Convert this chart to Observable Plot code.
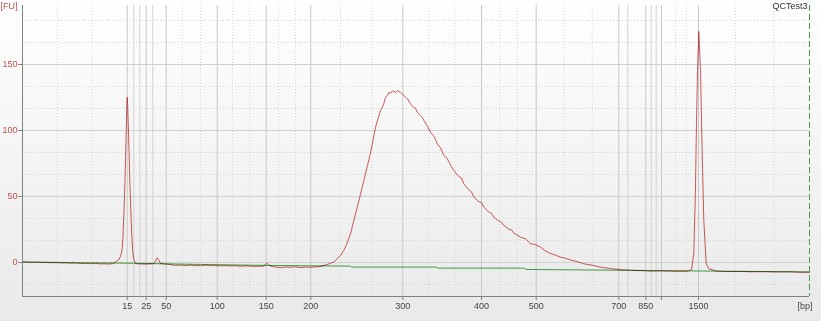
<!DOCTYPE html>
<html><head><meta charset="utf-8">
<script src="https://cdn.jsdelivr.net/npm/d3@7"></script>
<script src="https://cdn.jsdelivr.net/npm/@observablehq/plot@0.6"></script>
<style>
html,body{margin:0;padding:0;}
body{width:821px;height:321px;background:linear-gradient(#ffffff,#e9e9e9);overflow:hidden;}
</style></head><body><div id="chart"></div>
<script>
// Migration time (s) of the ladder peaks and their sizes (bp)
const ladderTime  = [40.47, 42.37, 44.37, 49.47, 54.37, 58.83, 68.03, 75.9, 81.37, 89.63, 92.33, 93.9, 97.6];
const ladderLabel = ["15", "25", "50", "100", "150", "200", "300", "400", "500", "700", "850", "", "1500"];
const extraLines  = [41.13, 41.73, 43.03, 90.53, 92.87, 93.37];
const minorXGrid  = [33.47, 36.97, 45.97, 47.8, 51.0, 52.73, 55.63, 57.3, 61.8, 64.97, 70.63, 73.23, 77.73, 79.47, 84.13, 86.97, 95.3, 96.37, 101.3, 105.13];
const yMajor = [0, 50, 100, 150];
const yMinor = [-16.67, 16.67, 33.33, 66.67, 83.33, 116.67, 133.33, 166.67, 183.33];

// Sample trace (QCTest3): time (s) and fluorescence (FU)
const sampleTime = [30.0,30.8,31.5,31.8,32.4,32.8,33.5,33.8,34.4,34.8,35.4,35.8,36.3,36.8,37.3,37.8,38.3,38.6,39.0,
 39.3,39.6,39.8,39.95,40.05,40.15,40.25,40.35,40.42,40.47,40.52,40.58,40.65,40.73,40.83,40.93,41.03,41.13,41.25,41.4,
 41.8,42.3,42.8,43.1,43.3,43.47,43.65,43.8,44.1,44.6,45.0,45.3,45.8,46.3,46.8,47.3,47.8,48.3,48.8,49.3,49.8,50.3,50.8,51.3,51.8,52.3,52.8,53.2,53.6,54.1,54.3,54.47,54.6,54.8,55.3,55.8,56.3,56.8,57.3,57.8,58.3,58.8,59.2,59.6,60.0,60.47,60.8,61.13,61.47,61.8,62.13,62.4,62.8,63.1,63.47,63.8,64.13,64.5,64.8,65.3,65.8,66.1,66.3,66.5,66.63,66.8,67.0,67.13,67.3,67.5,67.65,67.8,68.0,68.3,68.5,68.8,69.1,69.3,69.47,69.8,70.0,70.13,70.5,70.8,71.1,71.3,71.47,71.8,72.13,72.4,72.6,72.9,73.13,73.6,73.9,74.13,74.6,74.9,75.13,75.6,75.9,76.13,76.6,76.9,77.13,77.6,77.9,78.13,78.6,78.9,79.13,79.8,80.3,80.8,81.3,81.8,82.2,82.63,83.2,83.8,84.3,84.8,85.5,86.13,87.0,87.8,88.8,89.8,90.7,91.47,92.3,92.8,93.8,94.8,95.5,96.47,96.9,97.13,97.3,97.4,97.5,97.63,97.8,97.97,98.13,98.37,98.63,99.47,100.5,101.8,103.0,104.3,105.5,106.8,107.8,108.7];
const sampleFU = [0.4,0.2,0.3,0.0,0.1,-0.2,-0.1,-0.4,-0.3,-0.6,-0.5,-0.8,-0.7,-0.9,-0.8,-1.1,-1.0,-1.2,-1.0,
 0.4,1.9,4.5,9.1,19.7,39.4,62.1,92.4,115.2,125.2,118.9,103.8,84.8,62.1,39.4,20.5,7.6,2.3,-0.4,-1.0,
 -1.1,-1.3,-1.1,-1.0,1.0,3.6,1.5,-0.8,-1.1,-1.4,-1.9,-2.2,-2.0,-2.3,-2.1,-2.4,-2.3,-2.1,-2.4,-2.3,-2.6,-2.4,-2.7,-2.5,-2.9,-2.6,-2.8,-3.1,-2.9,-2.8,-1.5,-0.6,-1.8,-2.8,-3.5,-3.9,-3.4,-3.7,-3.3,-3.9,-3.5,-3.7,-3.4,-3.2,-2.6,-1.5,-0.6,0.3,2.8,5.3,9.1,13.5,21.7,30.8,41.9,51.6,62.1,73.5,83.0,102.5,115.2,119.5,125.2,126.5,129.0,128.2,130.0,129.8,128.6,130.2,129.3,129.0,127.6,125.2,124.0,120.2,117.6,116.9,113.9,111.2,109.6,107.6,103.1,98.7,96.0,93.4,89.9,86.9,81.1,79.6,76.8,72.5,69.7,65.3,63.9,59.6,55.2,53.5,49.5,46.2,45.3,41.9,38.3,37.2,34.3,31.6,30.6,28.0,25.3,24.6,22.2,19.2,17.9,14.2,13.5,11.6,9.2,7.3,5.8,4.0,3.2,1.9,0.6,-1.0,-2.1,-3.6,-4.6,-5.5,-5.8,-6.1,-6.3,-6.6,-6.4,-6.6,-6.7,-6.6,-5.5,6.6,57.0,107.6,145.5,175.0,145.5,82.3,31.8,-1.0,-4.8,-6.6,-6.9,-6.8,-7.1,-7.0,-7.2,-7.1,-7.4,-7.4];

// Baseline fit (green)
const baseTime = [30.0, 41.1, 47.8, 55.0, 62.8, 62.9, 71.4, 71.5, 80.2, 80.3, 88.0, 98.0, 108.7];
const baseFU   = [0.3, -0.6, -1.5, -2.3, -2.8, -3.5, -3.5, -4.3, -4.3, -5.3, -5.8, -6.5, -7.2];

const trace = sampleTime.map((t, i) => ({t, fu: sampleFU[i]}));
const base = baseTime.map((t, i) => ({t, fu: baseFU[i]}));
const labelMap = new Map(ladderTime.map((t, i) => [t, ladderLabel[i]]));
const xDom = [30, 108.7], yDom = [-25.8, 194.7];

const chart = Plot.plot({
  width: 821, height: 321,
  marginTop: 5, marginBottom: 25, marginLeft: 22, marginRight: 12,
  style: {background: "transparent", fontFamily: "'Liberation Sans', Arial, sans-serif", fontSize: "9px", overflow: "visible"},
  x: {domain: xDom},
  y: {domain: yDom},
  marks: [
    Plot.ruleY(yMinor, {stroke: "#d6d6d6", strokeDasharray: "1,2"}),
    Plot.ruleY(yMajor, {stroke: "#d0d0d0"}),
    Plot.ruleX(minorXGrid, {stroke: "#d6d6d6", strokeDasharray: "1,2"}),
    Plot.ruleX(extraLines, {stroke: "#d2d2d2"}),
    Plot.ruleX(ladderTime, {stroke: "#c8c8c8"}),
    Plot.line(base, {x: "t", y: "fu", stroke: "#3f9a3f", strokeWidth: 1}),
    Plot.line(trace, {x: "t", y: "fu", stroke: "#cc4848", strokeWidth: 0.9, mixBlendMode: "multiply"}),
    Plot.ruleX([xDom[1]], {stroke: "#4a9a4a", strokeDasharray: "6,3"}),
    Plot.ruleX([xDom[0]], {stroke: "#808080"}),
    Plot.ruleY([yDom[0]], {stroke: "#808080"}),
    Plot.axisY({ticks: yMajor, tickSize: 4, tickPadding: 1, color: "#c0504d", stroke: "#808080", label: null}),
    Plot.axisX({ticks: ladderTime, tickFormat: d => labelMap.get(d), tickSize: 4, tickPadding: 2, color: "#444444", stroke: "#808080", label: null}),
    Plot.text(["[FU]"], {frameAnchor: "top-left", dx: -22, dy: 1, textAnchor: "start", lineAnchor: "middle", fill: "#c0504d"}),
    Plot.text(["QCTest3"], {frameAnchor: "top-right", dx: -2, dy: 1, textAnchor: "end", lineAnchor: "middle", fill: "#333333"}),
    Plot.text(["[bp]"], {frameAnchor: "bottom-right", dx: -12, dy: 10, textAnchor: "start", lineAnchor: "middle", fill: "#444444"})
  ]
});
document.getElementById("chart").appendChild(chart);
</script>
</body></html>
